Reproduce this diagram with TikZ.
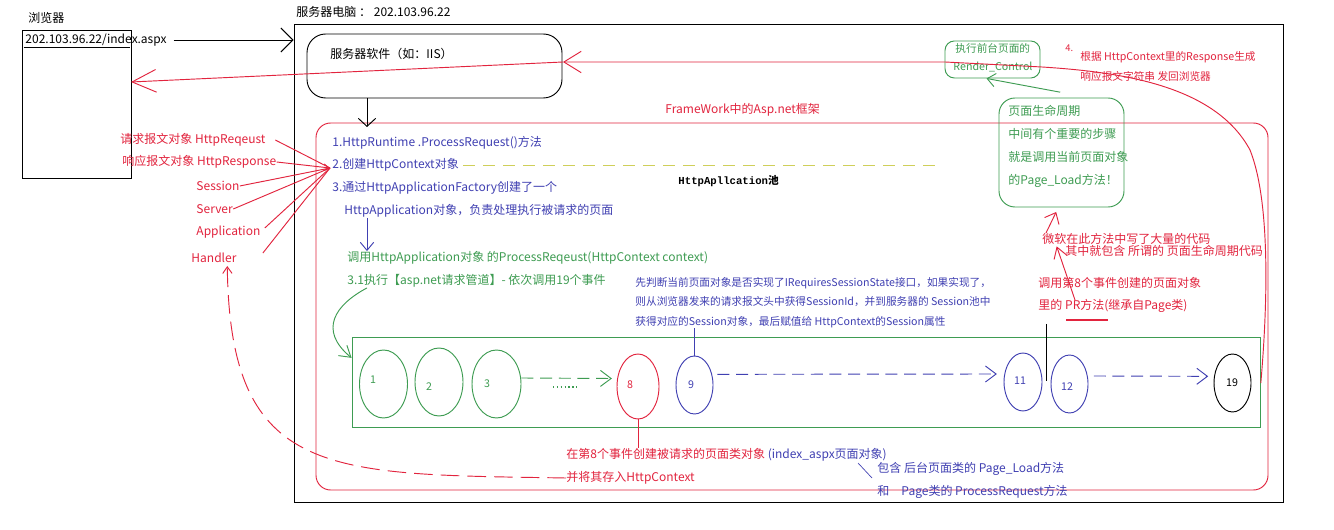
\documentclass[tikz,border=0pt]{standalone}
\usepackage{fontspec}
\setmainfont{Noto Sans CJK SC}
\newfontfamily\pmono{Liberation Mono}
\usetikzlibrary{arrows.meta,shapes.geometric,fit,calc}
\definecolor{rd}{HTML}{E2243E}
\definecolor{bl}{HTML}{4040B2}
\definecolor{gn}{HTML}{3E9C52}
\definecolor{yl}{HTML}{CFCF5A}
\begin{document}
\begin{tikzpicture}[x=0.75pt,y=-0.75pt,line width=0.7pt,
  txt/.style={inner sep=0pt,anchor=west,font=\fontsize{9}{11}\selectfont},
  stxt/.style={inner sep=0pt,anchor=west,font=\fontsize{8}{10}\selectfont},
  frame/.style={draw,inner sep=0pt},
  ev/.style={ellipse,draw,inner sep=0pt},
  evl/.style={inner sep=0pt,font=\fontsize{8}{10}\selectfont},
  bigbarb/.style={-{Straight Barb[length=9pt,width=18pt]}},
  dasharr/.style={dash pattern=on 9pt off 5pt,-{Straight Barb[length=8pt,width=12pt,line cap=butt]}},
]
\useasboundingbox (0,0) rectangle (1334,530);
\fill[white] (0,0) rectangle (1334,530);

% browser
\node[txt] (brl) at (28,18) {浏览器};
\node[fit={(22,30)(131,178)},frame] (browser) {};
\node[txt] (url) at (25,40) {202.103.96.22/index.aspx};
\draw ($(browser.north west)+(2,18)$) -- ($(browser.north east)+(-1,18)$);

% server computer
\node[txt] (srvl) at (296,12) {服务器电脑 ： 202.103.96.22};
\node[fit={(294,24)(1283,502)},frame] (server) {};
\draw[bigbarb] ([xshift=5pt]url.east) -- (server.west |- url.east);

% IIS
\node[fit={(307,34)(562,98)},frame,rounded corners=14pt] (iis) {};
\node[txt] (iist) at (330,54) {服务器软件（如：IIS）};

% framework box
\node[txt,text=rd] (fwl) at (665,110) {FrameWork中的Asp.net框架};
\node[fit={(316,123)(1268,490)},frame,draw=rd,rounded corners=11pt] (fw) {};
\draw[-{Straight Barb[length=6pt,width=13pt]}] (iis.south -| 367,0) -- (367,127);

% steps
\node[txt,text=bl] (t1) at (332,143) {1.HttpRuntime .ProcessRequest()方法};
\node[txt,text=bl] (t2) at (332,165) {2.创建HttpContext对象};
\node[txt,text=bl] (t3) at (332,188) {3.通过HttpApplicationFactory创建了一个};
\node[txt,text=bl] (t4) at (344,211) {HttpApplication对象，负责处理执行被请求的页面};
\node[txt,text=gn] (t5) at (347,258) {调用HttpApplication对象 的ProcessReqeust(HttpContext context)};
\node[txt,text=gn] (t6) at (347,281) {3.1执行【asp.net请求管道】- 依次调用19个事件};
\node[inner sep=0pt,anchor=west,font=\pmono\fontsize{8}{10}\selectfont\bfseries] (pool) at (678,181) {HttpApllcation{\fontspec{Noto Sans CJK SC}池}};
\coordinate (yend) at (940,165);
\draw[yl,dash pattern=on 9pt off 6pt] ([xshift=3pt]t2.east) -- (yend);
\draw[bl,-{Straight Barb[length=6pt,width=10pt]}] (t4.south -| 367,0) -- (t5.north -| 367,0);

% red labels on the left
\node[txt,text=rd] (req) at (120,140) {请求报文对象 HttpReqeust};
\node[txt,text=rd] (resp) at (122,162) {响应报文对象 HttpResponse};
\node[txt,text=rd] (sess) at (196,186) {Session};
\node[txt,text=rd] (serv) at (196,209) {Server};
\node[txt,text=rd] (appl) at (196,232) {Application};
\node[txt,text=rd] (hand) at (191,258) {Handler};
\coordinate (hc) at (330,168);
\draw[rd] ([xshift=7pt]req.east) -- (hc);
\draw[rd,-{Straight Barb[length=4pt,width=5pt]}] (resp.east) -- (hc);
\draw[rd] (sess.east) -- (hc);
\draw[rd] (serv.east) -- (hc);
\draw[rd] ($(appl.east)+(4,-4)$) -- (hc);
\draw[rd] ($(hand.east)+(26,-5)$) -- (hc);

% green event box
\node[fit={(352,337)(1260,427)},frame,draw=gn] (gbox) {};
\draw[gn,-{Straight Barb[length=8pt,width=10pt]}] (t6.south -| 367,0) .. controls (335,305) and (318,330) .. ([yshift=-16pt]gbox.north west);

\node[ev,draw=gn,minimum width=36pt,minimum height=51pt] (e1) at (383.5,384) {};
\node[evl,text=gn] at (373,380) {1};
\node[ev,draw=gn,minimum width=36pt,minimum height=51pt] (e2) at (439,382) {};
\node[evl,text=gn] at (429,387) {2};
\node[ev,draw=gn,minimum width=36.75pt,minimum height=51pt] (e3) at (496.5,384) {};
\node[evl,text=gn] at (487,384) {3};
\node[ev,draw=rd,minimum width=31.5pt,minimum height=48.75pt] (e8) at (638,386.5) {};
\node[evl,text=rd] at (630,385) {8};
\node[ev,draw=bl,minimum width=27.75pt,minimum height=43.5pt] (e9) at (694.5,385) {};
\node[evl,text=bl] at (691,385) {9};
\node[ev,draw=bl,minimum width=28.5pt,minimum height=43.5pt] (e11) at (1023,382) {};
\node[evl,text=bl] at (1020,381) {11};
\node[ev,draw=bl,minimum width=27.75pt,minimum height=43.5pt] (e12) at (1069.5,384) {};
\node[evl,text=bl] at (1067,387) {12};
\node[ev,minimum width=27.75pt,minimum height=43.5pt] (e19) at (1232.5,383) {};
\node[evl] at (1232,383) {19};

\draw[gn,dasharr] ([yshift=4.5pt]e3.east) -- ([xshift=-3.5pt,yshift=6pt]e8.west);
\draw[gn,dotted,line width=0.9pt] (553,387) -- (580,387);
\draw[bl,dasharr] ([xshift=3pt,yshift=8pt]e9.east) -- ([xshift=-5pt,yshift=6pt]e11.west);
\draw[bl,dasharr] ([xshift=4pt,yshift=6pt]e12.east) -- ([xshift=-4pt,yshift=5pt]e19.west);

% session note
\node[inner sep=0pt,anchor=west,align=left,text=bl,font=\fontsize{8}{14.6}\selectfont] (sn) at (635,302.5) {先判断当前页面对象是否实现了IRequiresSessionState接口，如果实现了，\\则从浏览器发来的请求报文头中获得SessionId，并到服务器的 Session池中\\获得对应的Session对象，最后赋值给 HttpContext的Session属性};
\draw[bl] (e9.north) -- (e9.north |- sn.south);

% event 8 note
\node[txt,text=rd] (n8a) at (566,455) {在第8个事件创建被请求的页面类对象 \textcolor{bl}{(index\_aspx页面对象)}};
\node[txt,text=rd] (n8b) at (566,478) {并将其存入HttpContext};
\draw[rd] (e8.south) -- (e8.south |- n8a.north);
\node[txt,text=bl] (inc1) at (877,469) {包含 后台页面类的 Page\_Load方法};
\node[txt,text=bl] (inc2) at (877,492) {和\quad Page类的 ProcessRequest方法};
\draw[bl,line width=0.5pt] ($(inc1.west)+(-19,-6)$) -- ($(inc1.west)+(-5,9)$);
\draw[rd,dash pattern=on 14pt off 6pt,-{Straight Barb[length=5pt,width=7pt]}] (n8b.west) .. controls (330,474) and (230,480) .. ([xshift=10pt,yshift=-2pt]hand.south);

% render control and page lifecycle
\node[fit={(945,41)(1040,78)},frame,draw=gn,rounded corners=7pt] (rc) {};
\node[stxt,text=gn] (rc1) at (955,48) {执行前台页面的};
\node[stxt,text=gn] (rc2) at (953,67) {Render\_Control};
\node[fit={(999,98)(1124,207)},frame,draw=gn,rounded corners=12pt] (lc) {};
\node[inner sep=0pt,anchor=west,align=left,text=gn,font=\fontsize{9}{17.25}\selectfont] (lct) at (1008,146.5) {页面生命周期\\中间有个重要的步骤\\就是调用当前页面对象\\的Page\_Load方法！};
\draw[gn,-{Straight Barb[length=6pt,width=10pt]}] ([xshift=-1pt,yshift=4pt]lc.north) -- ([xshift=-4.5pt]rc.south);

% step 4 and return path
\node[inner sep=0pt,anchor=west,text=rd,font=\fontsize{7}{8}\selectfont] (s4) at (1065,48) {4.};
\node[stxt,text=rd] (ret1) at (1080,57) {根据 HttpContext里的Response生成};
\node[stxt,text=rd] (ret2) at (1080,76) {响应报文字符串 发回浏览器};
\coordinate (rin) at (563,62);
\coordinate (bin) at (131,82);
\draw[rd,-{Straight Barb[length=13pt,width=16pt]}] ([xshift=7pt]e19.east) .. controls (1268,300) and (1270,200) .. (1250,150) .. controls (1215,85) and (1120,72) .. (1042,67) -- (945,62) -- (rin);
\draw[rd,-{Straight Barb[length=18pt,width=17pt]}] (rin) -- (bin);

% Microsoft notes
\node[txt,text=rd] (ms1) at (1042,239) {微软在此方法中写了大量的代码};
\node[txt,text=rd] (ms2) at (1065,251) {其中就包含 所谓的 页面生命周期代码};
\node[txt,text=rd] (pr1) at (1038,283) {调用第8个事件创建的页面对象};
\node[txt,text=rd] (pr2) at (1038,306) {里的 PR方法(继承自Page类)};
\draw[rd,-{Straight Barb[length=7pt,width=12pt]}] ([xshift=3pt]ms1.north west) -- ([xshift=-4pt]lc.south |- 0,212);
\draw[rd,-{Straight Barb[length=8pt,width=10pt]}] (1075,300) -- ([xshift=11pt,yshift=-1pt]ms1.south west);
\draw[rd,line width=2pt] (1066,320) -- (1108,320);
\draw (1046,324) -- (1046,381);
\end{tikzpicture}
\end{document}
